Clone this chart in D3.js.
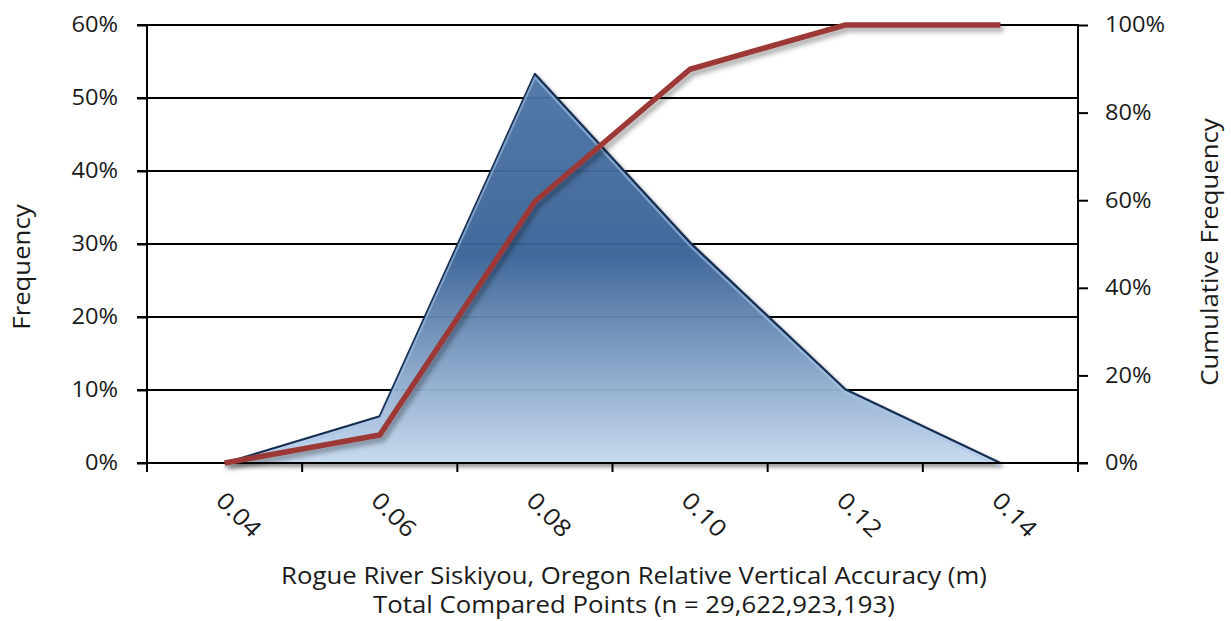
<!DOCTYPE html>
<html><head><meta charset="utf-8">
<script src="https://cdn.jsdelivr.net/npm/d3@7"></script>
<style>
html,body{margin:0;padding:0;background:#fff;}
svg{display:block;font-family:"Open Sans",sans-serif;}
</style></head>
<body>
<svg id="chart" width="1231" height="621"></svg>
<script>
// Data
const categories = ["0.04","0.06","0.08","0.10","0.12","0.14"];
const frequency = [0.0, 0.064, 0.533, 0.302, 0.101, 0.0];
const cumulative = [0.0, 0.064, 0.597, 0.899, 1.0, 1.0];
const leftTicks = [0, 0.1, 0.2, 0.3, 0.4, 0.5, 0.6];
const rightTicks = [0, 0.2, 0.4, 0.6, 0.8, 1.0];
const xTitle1 = "Rogue River Siskiyou, Oregon Relative Vertical Accuracy (m)";
const xTitle2 = "Total Compared Points (n = 29,622,923,193)";
const yTitleLeft = "Frequency";
const yTitleRight = "Cumulative Frequency";

const svg = d3.select("#chart");
const L = 147, R = 1078, T = 25, B = 463;
const fs = 21.5, sx = 1.1;      // tick labels
const xfs = 23.5, xsx = 1.12;   // category labels
const tfs = 23, tsx = 1.12;     // titles
const txt = "#1a1a1a";

const x = d3.scaleBand().domain(categories).range([L, R]).paddingInner(0).paddingOuter(0);
const yL = d3.scaleLinear().domain([0, 0.6]).range([B, T]);
const yR = d3.scaleLinear().domain([0, 1]).range([B, T]);
const cx = c => x(c) + x.bandwidth() / 2;

const defs = svg.append("defs");
const grad = defs.append("linearGradient").attr("id", "areaGrad")
  .attr("gradientUnits", "userSpaceOnUse")
  .attr("x1", 0).attr("x2", 0).attr("y1", yL(d3.max(frequency))).attr("y2", B);
grad.append("stop").attr("offset", "0%").attr("stop-color", "#4d76a9");
grad.append("stop").attr("offset", "47%").attr("stop-color", "#3b6599");
grad.append("stop").attr("offset", "100%").attr("stop-color", "#c9ddf3");

const fA = defs.append("filter").attr("id", "shadowA").attr("x", "-10%").attr("y", "-10%").attr("width", "130%").attr("height", "130%");
fA.append("feDropShadow").attr("dx", 2).attr("dy", 3).attr("stdDeviation", 2)
  .attr("flood-color", "#000").attr("flood-opacity", 0.45);
const fL = defs.append("filter").attr("id", "shadowL").attr("x", "-10%").attr("y", "-10%").attr("width", "130%").attr("height", "130%");
fL.append("feDropShadow").attr("dx", 3).attr("dy", 4).attr("stdDeviation", 2.5)
  .attr("flood-color", "#000").attr("flood-opacity", 0.35);

// Gridlines
svg.append("g").selectAll("line").data(leftTicks).join("line")
  .attr("x1", L - 10).attr("x2", R)
  .attr("y1", d => yL(d)).attr("y2", d => yL(d))
  .attr("stroke", "#000").attr("stroke-width", 2);

// Area
const area = d3.area()
  .x((d, i) => cx(categories[i]))
  .y0(B).y1(d => yL(d));
svg.append("path").datum(frequency)
  .attr("d", area)
  .attr("fill", "url(#areaGrad)")
  .attr("fill-opacity", 0.93)
  .attr("stroke", "#142f52").attr("stroke-width", 2.2).attr("stroke-linejoin", "round")
  .attr("filter", "url(#shadowA)");

// Inner highlight along edge (bevel)
const line = d3.line().x((d, i) => cx(categories[i]));
svg.append("path").datum(frequency)
  .attr("d", line.y(d => yL(d) + 3.5))
  .attr("fill", "none").attr("stroke", "#a9c6ea").attr("stroke-opacity", 0.6).attr("stroke-width", 2);

// Baseline axis
svg.append("line").attr("x1", L).attr("x2", R + 10).attr("y1", B).attr("y2", B)
  .attr("stroke", "#000").attr("stroke-width", 2);

// Cumulative line
svg.append("path").datum(cumulative)
  .attr("d", d3.line().x((d, i) => cx(categories[i])).y(d => yR(d)))
  .attr("fill", "none").attr("stroke", "#9c3936").attr("stroke-width", 5.5)
  .attr("stroke-linejoin", "miter")
  .attr("filter", "url(#shadowL)");

// Left axis
const axL = svg.append("g").attr("transform", `translate(${L},0)`)
  .call(d3.axisLeft(yL).tickValues(leftTicks).tickFormat(d3.format(".0%")).tickSize(10));
axL.select(".domain").remove();
axL.selectAll(".tick line").attr("stroke", "#000").attr("stroke-width", 2);
axL.selectAll("text").attr("x", 0).attr("transform", `translate(-29,0) scale(${sx},1)`)
  .attr("font-size", fs).attr("fill", txt).attr("font-family", "Open Sans");
svg.append("line").attr("x1", L).attr("x2", L).attr("y1", T - 1).attr("y2", B + 9)
  .attr("stroke", "#000").attr("stroke-width", 2);

// Right axis
const axR = svg.append("g").attr("transform", `translate(${R},0)`)
  .call(d3.axisRight(yR).tickValues(rightTicks).tickFormat(d3.format(".0%")).tickSize(10));
axR.select(".domain").remove();
axR.selectAll(".tick line").attr("stroke", "#000").attr("stroke-width", 2);
axR.selectAll("text").attr("x", 0).attr("transform", `translate(27,0) scale(${sx},1)`)
  .attr("font-size", fs).attr("fill", txt).attr("font-family", "Open Sans");
svg.append("line").attr("x1", R).attr("x2", R).attr("y1", T - 1).attr("y2", B + 9)
  .attr("stroke", "#000").attr("stroke-width", 2);

// X ticks at category boundaries
const bounds = categories.map(c => x(c)).concat([R]);
svg.append("g").selectAll("line").data(bounds).join("line")
  .attr("x1", d => d).attr("x2", d => d).attr("y1", B).attr("y2", B + 9)
  .attr("stroke", "#000").attr("stroke-width", 2);

// X labels rotated
svg.append("g").selectAll("text").data(categories).join("text")
  .attr("transform", d => `translate(${cx(d) - 10},${B + 39}) rotate(45) scale(${xsx},1)`)
  .attr("text-anchor", "start")
  .attr("font-size", xfs).attr("fill", txt)
  .text(d => d);

// Titles
svg.append("text").attr("transform", `translate(634,584) scale(${tsx},1)`).attr("text-anchor", "middle")
  .attr("font-size", tfs).attr("fill", txt).text(xTitle1);
svg.append("text").attr("transform", `translate(634,613) scale(${tsx},1)`).attr("text-anchor", "middle")
  .attr("font-size", tfs).attr("fill", txt).text(xTitle2);
svg.append("text").attr("transform", `translate(30,267) rotate(-90) scale(${tsx},1)`).attr("text-anchor", "middle")
  .attr("font-size", tfs).attr("fill", txt).text(yTitleLeft);
svg.append("text").attr("transform", `translate(1218,252) rotate(-90) scale(${tsx},1)`).attr("text-anchor", "middle")
  .attr("font-size", tfs).attr("fill", txt).text(yTitleRight);
</script>
</body></html>
